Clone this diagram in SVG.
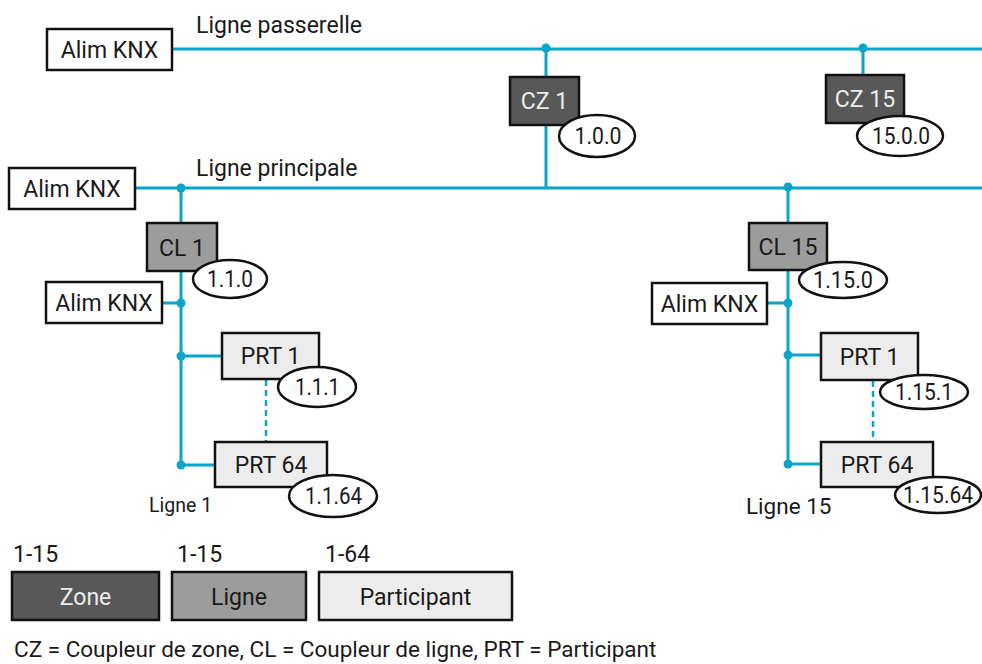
<svg xmlns="http://www.w3.org/2000/svg" width="982" height="664" viewBox="0 0 982 664">
<style>
text{font-family:Roboto,"Liberation Sans",sans-serif;font-size:23px;fill:#1a1a1a}
.c{text-anchor:middle}
.bus{stroke:#0aa5c8;stroke-width:3;fill:none}
.dash{stroke:#0aa5c8;stroke-width:2.5;stroke-dasharray:6 4;fill:none}
.dot{fill:#0aa5c8}
.box{stroke:#111;stroke-width:2.5}
.w{fill:#fff}
.zone{fill:#585858}
.ligne{fill:#9c9c9c}
.prt{fill:#ececec}
.ell{fill:#fff;stroke:#111;stroke-width:2.5}
.lt{fill:#ececec}
</style>
<g id="connectors">
<line class="bus" x1="172" y1="49" x2="982" y2="49"/>
<line class="bus" x1="135" y1="188" x2="982" y2="188"/>
<line class="bus" x1="546" y1="49" x2="546" y2="188"/>
<line class="bus" x1="863" y1="49" x2="863" y2="76"/>
<line class="bus" x1="181" y1="188" x2="181" y2="465"/>
<line class="bus" x1="162" y1="303" x2="181" y2="303"/>
<line class="bus" x1="181" y1="356" x2="222" y2="356"/>
<line class="bus" x1="181" y1="465" x2="215" y2="465"/>
<line class="bus" x1="788" y1="188" x2="788" y2="464"/>
<line class="bus" x1="767" y1="303" x2="788" y2="303"/>
<line class="bus" x1="788" y1="355" x2="821" y2="355"/>
<line class="bus" x1="788" y1="464" x2="821" y2="464"/>
<line class="dash" x1="266" y1="380" x2="266" y2="442"/>
<line class="dash" x1="873" y1="381" x2="873" y2="442"/>
<circle class="dot" cx="546" cy="48" r="4.5"/>
<circle class="dot" cx="863" cy="48" r="4.5"/>
<circle class="dot" cx="181" cy="188" r="4.5"/>
<circle class="dot" cx="788" cy="187" r="4.5"/>
<circle class="dot" cx="181" cy="303" r="4.5"/>
<circle class="dot" cx="181" cy="356" r="4.5"/>
<circle class="dot" cx="181" cy="465" r="4.5"/>
<circle class="dot" cx="788" cy="303" r="4.5"/>
<circle class="dot" cx="788" cy="355" r="4.5"/>
<circle class="dot" cx="788" cy="464" r="4.5"/>
</g>
<text x="196" y="33">Ligne passerelle</text>
<text x="196" y="176">Ligne principale</text>
<g id="alim-top"><rect class="box w" x="47" y="29" width="125" height="41"/><text class="c" x="109.5" y="58">Alim KNX</text></g>
<g id="alim-main"><rect class="box w" x="9" y="168" width="126" height="41"/><text class="c" x="72" y="197">Alim KNX</text></g>
<g id="cz1"><rect class="box zone" x="510" y="77" width="69" height="48"/><text class="c lt" x="544.5" y="109">CZ 1</text><ellipse class="ell" cx="597" cy="136" rx="38" ry="21"/><text class="c" x="598" y="144" textLength="47" lengthAdjust="spacingAndGlyphs">1.0.0</text></g>
<g id="cz15"><rect class="box zone" x="826" y="75" width="78" height="48"/><text class="c lt" x="865" y="107">CZ 15</text><ellipse class="ell" cx="900" cy="136" rx="43" ry="20"/><text class="c" x="901" y="144" textLength="58" lengthAdjust="spacingAndGlyphs">15.0.0</text></g>
<g id="cl1"><rect class="box ligne" x="147" y="223" width="70" height="48"/><text class="c" x="182" y="256">CL 1</text><ellipse class="ell" cx="230" cy="279" rx="37" ry="19"/><text class="c" x="230" y="287" textLength="46" lengthAdjust="spacingAndGlyphs">1.1.0</text></g>
<g id="alim-l1"><rect class="box w" x="46" y="282" width="116" height="41"/><text class="c" x="104" y="311">Alim KNX</text></g>
<g id="prt1-l1"><rect class="box prt" x="222" y="333" width="97" height="46"/><text class="c" x="270.5" y="364">PRT 1</text><ellipse class="ell" cx="317" cy="387" rx="39" ry="20"/><text class="c" x="317.5" y="395" textLength="45" lengthAdjust="spacingAndGlyphs">1.1.1</text></g>
<g id="prt64-l1"><rect class="box prt" x="215" y="442" width="112" height="45"/><text class="c" x="271" y="473">PRT 64</text><ellipse class="ell" cx="333" cy="496" rx="44" ry="21"/><text class="c" x="333.5" y="504" textLength="57" lengthAdjust="spacingAndGlyphs">1.1.64</text></g>
<text x="149" y="512" style="font-size:19.5px">Ligne 1</text>
<g id="cl15"><rect class="box ligne" x="749" y="223" width="78" height="47"/><text class="c" x="788" y="255">CL 15</text><ellipse class="ell" cx="843" cy="280" rx="44" ry="18"/><text class="c" x="843" y="288" textLength="60" lengthAdjust="spacingAndGlyphs">1.15.0</text></g>
<g id="alim-l15"><rect class="box w" x="652" y="283" width="115" height="41"/><text class="c" x="709.5" y="312">Alim KNX</text></g>
<g id="prt1-l15"><rect class="box prt" x="821" y="333" width="97" height="47"/><text class="c" x="869.5" y="365">PRT 1</text><ellipse class="ell" cx="924" cy="392" rx="44" ry="17"/><text class="c" x="924" y="400" textLength="58" lengthAdjust="spacingAndGlyphs">1.15.1</text></g>
<g id="prt64-l15"><rect class="box prt" x="821" y="442" width="112" height="45"/><text class="c" x="877" y="473">PRT 64</text><ellipse class="ell" cx="938" cy="495" rx="43" ry="18"/><text class="c" x="938" y="503" textLength="70" lengthAdjust="spacingAndGlyphs">1.15.64</text></g>
<text x="746" y="514" style="font-size:22.5px">Ligne 15</text>
<g id="legend">
<text x="13" y="562">1-15</text>
<text x="177" y="562">1-15</text>
<text x="325" y="562">1-64</text>
<rect x="12" y="572" width="147" height="48" fill="#585858" stroke="#111" stroke-width="2.5"/>
<text class="c" x="85.5" y="605" style="fill:#ececec">Zone</text>
<rect x="172" y="572" width="134" height="48" fill="#9c9c9c" stroke="#111" stroke-width="2.5"/>
<text class="c" x="239" y="605">Ligne</text>
<rect x="319" y="572" width="193" height="48" fill="#ececec" stroke="#111" stroke-width="2.5"/>
<text class="c" x="415.5" y="605">Participant</text>
</g>
<text x="14" y="657" style="font-size:22.5px">CZ = Coupleur de zone, CL = Coupleur de ligne, PRT = Participant</text>
</svg>
